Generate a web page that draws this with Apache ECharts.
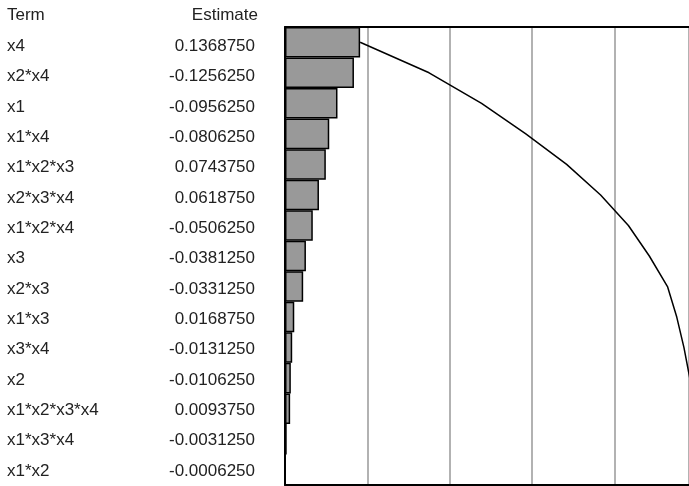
<!DOCTYPE html>
<html>
<head>
<meta charset="utf-8">
<script src="https://cdn.jsdelivr.net/npm/echarts@6/dist/echarts.min.js"></script>
<style>html,body{margin:0;padding:0;background:#fff}#c{width:689px;height:486px}</style>
</head>
<body>
<div id="c"></div>
<script>
const terms = ['x4','x2*x4','x1','x1*x4','x1*x2*x3','x2*x3*x4','x1*x2*x4','x3','x2*x3','x1*x3','x3*x4','x2','x1*x2*x3*x4','x1*x3*x4','x1*x2'];
const estimates = [0.1368750,-0.1256250,-0.0956250,-0.0806250,0.0743750,0.0618750,-0.0506250,-0.0381250,-0.0331250,0.0168750,-0.0131250,-0.0106250,0.0093750,-0.0031250,-0.0006250];
const estimateLabels = ['0.1368750','-0.1256250','-0.0956250','-0.0806250','0.0743750','0.0618750','-0.0506250','-0.0381250','-0.0331250','0.0168750','-0.0131250','-0.0106250','0.0093750','-0.0031250','-0.0006250'];

const absVals = estimates.map(v => Math.abs(v));
const cumVals = [];
absVals.reduce((s, v) => { const t = s + v; cumVals.push(t); return t; }, 0);
const total = cumVals[cumVals.length - 1];

// plot area is 412px wide in the reference but only 404px fit on the page
const visibleFraction = 404 / 412;

const FONT = "'Liberation Sans', Arial, sans-serif";
const FS = 17;
const chart = echarts.init(document.getElementById('c'));
chart.setOption({
  animation: false,
  title: [
    {text: 'Term', left: 7, top: 7, padding: 0, textStyle: {fontFamily: FONT, fontSize: FS, fontWeight: 'normal', color: '#222'}},
    {text: 'Estimate', right: 431, top: 7, padding: 0, textStyle: {fontFamily: FONT, fontSize: FS, fontWeight: 'normal', color: '#222'}}
  ],
  grid: [
    {left: 285, top: 27, right: 0, height: 458},
    {left: 255, top: 31, width: 10, height: 458}
  ],
  xAxis: [
    {type: 'value', gridIndex: 0, position: 'bottom', min: 0, max: total * visibleFraction, interval: total / 5,
     axisLine: {show: true, onZero: false, lineStyle: {color: '#000', width: 2}}, axisTick: {show: false}, axisLabel: {show: false},
     splitLine: {show: true, lineStyle: {color: '#999', width: 1.5}}},
    {type: 'value', gridIndex: 0, position: 'top', min: 0, max: total * visibleFraction, interval: total / 5,
     axisLine: {show: true, onZero: false, lineStyle: {color: '#000', width: 2}}, axisTick: {show: false}, axisLabel: {show: false},
     splitLine: {show: false}},
    {type: 'value', gridIndex: 1, show: false}
  ],
  yAxis: [
    {type: 'category', gridIndex: 0, data: terms, inverse: true,
     axisLine: {show: true, onZero: false, lineStyle: {color: '#000', width: 2}}, axisTick: {show: false}, axisLabel: {show: false}, splitLine: {show: false}},
    {type: 'category', gridIndex: 1, data: terms, inverse: true,
     axisLine: {show: false}, axisTick: {show: false}, splitLine: {show: false},
     axisLabel: {show: true, margin: 0, align: 'right',
       formatter: (val, idx) => '{t|' + val + '}{e|' + estimateLabels[idx] + '}',
       rich: {
         t: {width: 148, align: 'left', fontFamily: FONT, fontSize: FS, color: '#222'},
         e: {width: 100, align: 'right', fontFamily: FONT, fontSize: FS, color: '#222'}
       }}}
  ],
  series: [
    {type: 'bar', xAxisIndex: 0, yAxisIndex: 0, data: absVals, barCategoryGap: '0%',
     itemStyle: {color: '#999999', borderColor: '#000', borderWidth: 1.5}, z: 2},
    {type: 'line', xAxisIndex: 0, yAxisIndex: 0, data: cumVals, symbol: 'none', clip: true,
     lineStyle: {color: '#000', width: 1.5}, z: 3}
  ]
});
</script>
</body>
</html>
